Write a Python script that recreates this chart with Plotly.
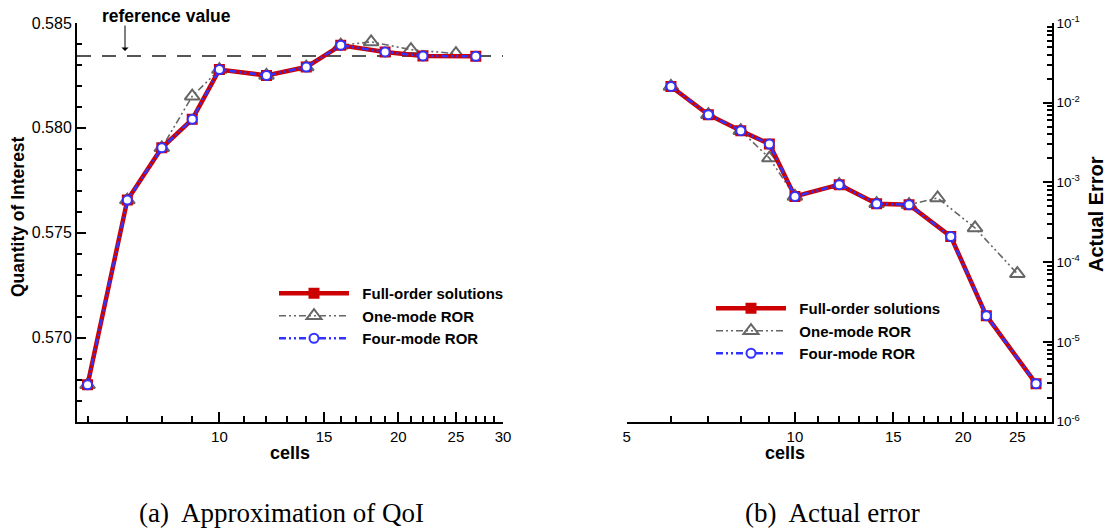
import numpy as np
import plotly.graph_objects as go

# ---------------- data ----------------
CELLS_FULL = [6, 7, 8, 9, 10, 12, 14, 16, 19, 22, 27]
CELLS_ONE = [6, 7, 8, 9, 10, 12, 14, 16, 18, 21, 25]
CELLS_FOUR = [6, 7, 8, 9, 10, 12, 14, 16, 19, 22, 27]

QOI_FULL = [0.56775, 0.57656, 0.57905, 0.58041, 0.58278, 0.58250, 0.58290, 0.58394, 0.58362, 0.58343, 0.58341]
QOI_ONE = [0.56775, 0.57656, 0.57905, 0.58151, 0.58278, 0.58250, 0.58290, 0.58394, 0.58410, 0.58373, 0.58354]
QOI_FOUR = [0.56775, 0.57656, 0.57905, 0.58041, 0.58278, 0.58250, 0.58290, 0.58394, 0.58362, 0.58343, 0.58341]

ERR_FULL = [1.60e-2, 7.07e-3, 4.46e-3, 3.03e-3, 6.67e-4, 9.36e-4, 5.40e-4, 5.25e-4, 2.10e-4, 2.13e-5, 2.98e-6]
ERR_ONE = [1.60e-2, 7.07e-3, 4.46e-3, 2.02e-3, 6.67e-4, 9.36e-4, 5.40e-4, 5.25e-4, 6.37e-4, 2.68e-4, 7.15e-5]
ERR_FOUR = [1.60e-2, 7.07e-3, 4.46e-3, 3.03e-3, 6.67e-4, 9.36e-4, 5.40e-4, 5.25e-4, 2.10e-4, 2.13e-5, 2.98e-6]

REF_VALUE = 0.58343

SERIES_NAMES = ["Full-order solutions", "One-mode ROR", "Four-mode ROR"]

X1_TICKS = [10, 15, 20, 25, 30]
X2_TICKS = [5, 10, 15, 20, 25]
Y1_TICKS = [0.570, 0.575, 0.580, 0.585]
Y2_TICKS = [1e-6, 1e-5, 1e-4, 1e-3, 1e-2, 1e-1]
Y2_TICKTEXT = ["10<sup>-6</sup>", "10<sup>-5</sup>", "10<sup>-4</sup>",
               "10<sup>-3</sup>", "10<sup>-2</sup>", "10<sup>-1</sup>"]

# ---------------- style ----------------
RED = "#cc0000"
GRAY = "#666666"
BLUE = "#3333ff"
DASHDOTDOT = "7px,3px,2px,3px,2px,3px"
SANS = "Liberation Sans, Arial, sans-serif"
SERIF = "Liberation Serif, Times New Roman, serif"

W, H = 1108, 528


def px_x(p):
    return p / W


def px_y(p):
    return 1 - p / H


fig = go.Figure()
PAD = "&nbsp;&nbsp;"


def add_series(xa, ya, legend, qoi):
    fig.add_trace(go.Scatter(
        x=CELLS_ONE, y=(QOI_ONE if qoi else ERR_ONE), mode="lines+markers",
        name=PAD + SERIES_NAMES[1], legend=legend, legendrank=2,
        line=dict(color=GRAY, width=1.6, dash=DASHDOTDOT),
        marker=dict(symbol="triangle-up-open", size=13, color=GRAY, line=dict(width=2, color=GRAY)),
        xaxis=xa, yaxis=ya))
    fig.add_trace(go.Scatter(
        x=CELLS_FULL, y=(QOI_FULL if qoi else ERR_FULL), mode="lines+markers",
        name=PAD + SERIES_NAMES[0], legend=legend, legendrank=1,
        line=dict(color=RED, width=4.5),
        marker=dict(symbol="square", size=11, color=RED, line=dict(width=0)),
        xaxis=xa, yaxis=ya))
    fig.add_trace(go.Scatter(
        x=CELLS_FOUR, y=(QOI_FOUR if qoi else ERR_FOUR), mode="lines+markers",
        name=PAD + SERIES_NAMES[2], legend=legend, legendrank=3,
        line=dict(color=BLUE, width=2.5, dash=DASHDOTDOT),
        marker=dict(symbol="circle", size=9, color="white", line=dict(width=2, color=BLUE)),
        xaxis=xa, yaxis=ya))


add_series("x", "y", "legend", True)
add_series("x2", "y2", "legend2", False)

# reference line
fig.add_shape(type="line", xref="x domain", yref="y", x0=0, x1=1, y0=REF_VALUE, y1=REF_VALUE,
              line=dict(color="#555555", width=2, dash="14px,11px"), layer="below")

minor_x1 = [v for v in range(6, 30) if v not in X1_TICKS]
minor_x2 = [v for v in range(6, 29) if v not in X2_TICKS]
minor_y2 = [m * 10.0 ** e for e in range(-6, -1) for m in range(2, 10)]

common_axis = dict(showgrid=False, zeroline=False, showline=True, linecolor="black", linewidth=2,
                   ticks="inside", tickcolor="black", tickwidth=2, automargin=False)

y_top, y_bot = 23, 421.5
xtickfont = dict(family=SANS, size=15, color="black")

fig.update_layout(
    width=W, height=H,
    margin=dict(l=0, r=0, t=0, b=0),
    paper_bgcolor="white", plot_bgcolor="white",
    font=dict(family=SANS, color="black"),
    xaxis=dict(domain=[px_x(77), px_x(503)], type="log", range=[np.log10(5.76), np.log10(30)],
               anchor="y", tickvals=X1_TICKS, ticktext=[str(v) for v in X1_TICKS], ticklen=10,
               tickfont=xtickfont,
               minor=dict(tickvals=minor_x1, ticks="inside", ticklen=6, tickwidth=1.5, tickcolor="black",
                          showgrid=False),
               **common_axis),
    yaxis=dict(domain=[px_y(y_bot), px_y(y_top)], range=[0.566, 0.585], anchor="x",
               tickvals=Y1_TICKS, ticktext=["%.3f" % v for v in Y1_TICKS], ticklen=9,
               tickfont=dict(family=SANS, size=16, color="black"),
               minor=dict(dtick=0.001, tick0=0.566, ticks="inside", ticklen=5, tickwidth=1.5, tickcolor="black",
                          showgrid=False),
               **common_axis),
    xaxis2=dict(domain=[px_x(626.7), px_x(1051.7)], type="log", range=[np.log10(5), np.log10(28.8)],
                anchor="y2", tickvals=X2_TICKS, ticktext=[str(v) for v in X2_TICKS], ticklen=10,
                tickfont=xtickfont,
                minor=dict(tickvals=minor_x2, ticks="inside", ticklen=6, tickwidth=1.5, tickcolor="black",
                           showgrid=False),
                **common_axis),
    yaxis2=dict(domain=[px_y(y_bot), px_y(y_top)], type="log", range=[-6, -1], anchor="x2", side="right",
                tickvals=Y2_TICKS, ticktext=Y2_TICKTEXT, ticklen=9,
                tickfont=dict(family=SANS, size=13.5, color="black"),
                minor=dict(tickvals=minor_y2, ticks="inside", ticklen=5, tickwidth=1.5, tickcolor="black",
                           showgrid=False),
                **common_axis),
    legend=dict(x=px_x(274), y=px_y(277), xanchor="left", yanchor="top", bgcolor="rgba(0,0,0,0)",
                font=dict(family=SANS, size=15, color="black", weight="bold"), itemwidth=70,
                tracegroupgap=0),
    legend2=dict(x=px_x(711), y=px_y(292), xanchor="left", yanchor="top", bgcolor="rgba(0,0,0,0)",
                 font=dict(family=SANS, size=15, color="black", weight="bold"), itemwidth=70,
                 tracegroupgap=0),
    showlegend=True,
)


def note(text, x, y, size, family=SANS, angle=0):
    return dict(text=text, x=px_x(x), y=px_y(y), xref="paper", yref="paper",
                xanchor="center", yanchor="middle", textangle=angle, showarrow=False,
                font=dict(family=family, size=size, color="black"))


annotations = [
    note("<b>Quantity of Interest</b>", 18, 217, 17.5, angle=-90),
    note("<b>cells</b>", 290, 453, 18),
    note("<b>cells</b>", 785, 453, 18),
    note("<b>Actual Error</b>", 1096, 214, 20, angle=-90),
    note("<b>reference value</b>", 166, 16, 17.5),
    dict(text="", x=px_x(125), y=px_y(51), xref="paper", yref="paper", showarrow=True,
         ax=0, ay=-27, arrowhead=1, arrowsize=1.2, arrowwidth=1, arrowcolor="black"),
    note("(a)  Approximation of QoI", 281, 513, 27, family=SERIF),
    note("(b)  Actual error", 832, 513, 27, family=SERIF),
]
fig.update_layout(annotations=annotations)

fig.write_html("out.html")
